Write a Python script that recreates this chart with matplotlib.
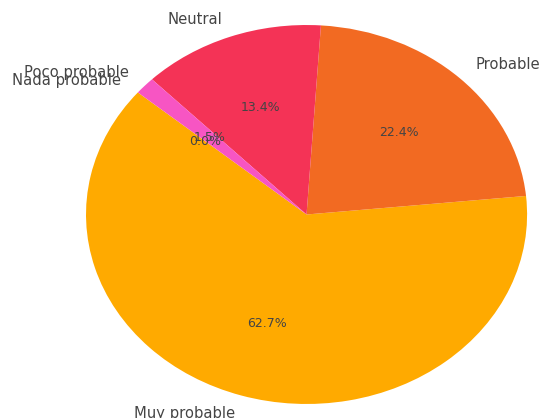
import matplotlib.pyplot as plt

labels = ['Muy probable', 'Probable', 'Neutral', 'Poco probable', 'Nada probable']
values = [62.7, 22.4, 13.4, 1.5, 0.0]
colors = ['#FFAA00', '#F26A22', '#F43356', '#F755C3', '#A8E05F']

fig = plt.figure(figsize=(5.39, 4.18), dpi=100)
ax = fig.add_axes([0, 0, 1, 1])

wedges, texts, autotexts = ax.pie(values, labels=labels, colors=colors,
                                  autopct='%1.1f%%', startangle=139.9,
                                  textprops={'color': '#444444'})
for t in texts:
    t.set_fontsize(10.6)
for t in autotexts:
    t.set_fontsize(9)

# stretched pie, not a circle
ax.set_aspect('auto')
ax.set_xlim(-1.39, 1.054)
ax.set_ylim(-1.074, 1.132)

plt.savefig('out.png', dpi=100)
